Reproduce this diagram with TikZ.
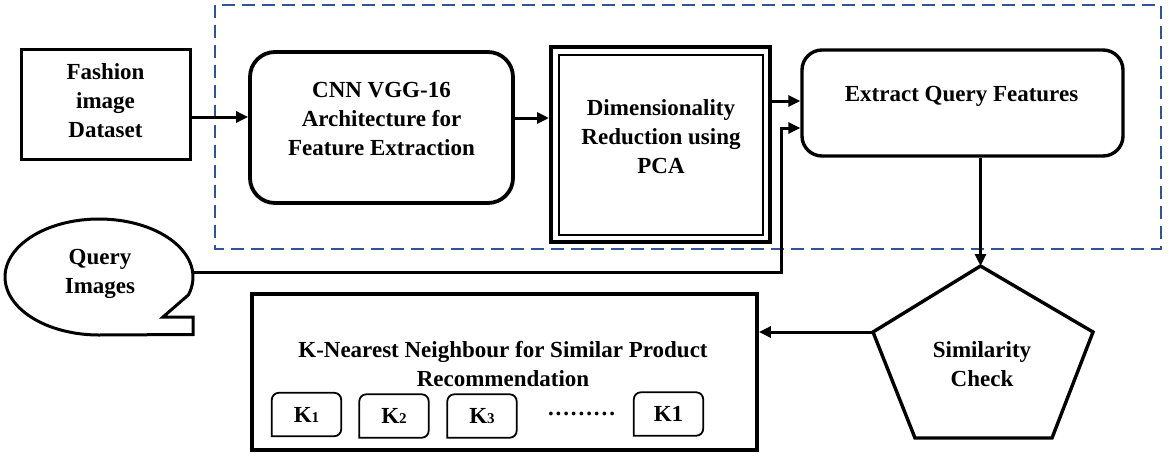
\documentclass[tikz,border=0pt]{standalone}
\usepackage{fontspec}
\setmainfont{Liberation Serif}
\usetikzlibrary{arrows.meta}
\definecolor{dashblue}{HTML}{2F5597}
\begin{document}
\begin{tikzpicture}[x=1pt,y=-1pt,
  font=\bfseries\fontsize{23}{29}\selectfont,
  txt/.style={inner sep=0pt, align=center},
  boxA/.style={draw, line width=3pt, inner sep=0pt},
  arr/.style={line width=3pt, -{Triangle[length=12pt,width=11pt]}},
  kbox/.style={inner sep=0pt, minimum width=69pt, minimum height=43pt},
  kframe/.style={line width=1.8pt, rounded corners=7pt}
]
\useasboundingbox (0,0) rectangle (1170,461);

% dashed frame
\draw[dashblue, line width=2pt, dash pattern=on 13pt off 7pt] (215,5) rectangle (1161,249);

% Fashion image Dataset
\node[boxA, minimum width=169pt, minimum height=110pt] (fash) at (105.5,104) {};
\node[txt] (fashT) at (105.5,101) {Fashion\\image\\Dataset};

% CNN
\node[boxA, line width=3.8pt, rounded corners=25pt, minimum width=263pt, minimum height=151pt] (cnn) at (381.5,127.5) {};
\node[txt] (cnnT) at (381.5,119) {CNN VGG-16\\Architecture for\\Feature Extraction};

% PCA
\node[boxA, line width=4pt, minimum width=219pt, minimum height=195pt] (pca) at (660.5,144.5) {};
\node[draw, line width=2pt, inner sep=0pt, minimum width=204pt, minimum height=180pt] (pcaIn) at (660.5,144.5) {};
\node[txt] (pcaT) at (661,137) {Dimensionality\\Reduction using\\PCA};

% Extract
\node[boxA, line width=3.4pt, rounded corners=20pt, minimum width=321pt, minimum height=106pt] (ext) at (962.5,103) {};
\node[txt] (extT) at (961.5,96) {Extract Query Features};

% KNN
\node[boxA, line width=3.8pt, minimum width=505pt, minimum height=156pt] (knn) at (504.5,372) {};
\node[txt] (knnT) at (503,364.5) {K-Nearest Neighbour for Similar Product\\Recommendation};

% K boxes
\node[kbox] (k1) at (306.5,414.5) {K{\fontsize{15}{15}\selectfont 1}};
\node[kbox] (k2) at (394,416) {K{\fontsize{15}{15}\selectfont 2}};
\node[kbox] (k3) at (482,416) {K{\fontsize{15}{15}\selectfont 3}};
\node[kbox] (kn) at (668.5,414) {K1};
\foreach \k in {k1,k2,k3,kn}{
  \draw[kframe] (\k.south west) -- (\k.north west) -- (\k.north east) -- (\k.south east) [sharp corners] -- cycle;
}
\node[txt] (dots) at (581.5,414) {\makebox[67pt][s]{.\hfill.\hfill.\hfill.\hfill.\hfill.\hfill.\hfill.\hfill.}};

% pentagon
\coordinate (ptop) at (980.5,266);
\coordinate (pl) at (873,332);
\coordinate (pr) at (1093,332);
\coordinate (pbl) at (915,438);
\coordinate (pbr) at (1052,438);
\draw[line width=3.4pt, line join=miter] (ptop) -- (pr) -- (pbr) -- (pbl) -- (pl) -- cycle;
\node[txt] (simT) at (982,364.5) {Similarity\\Check};

% Query images callout
\draw[line width=3pt, line join=miter]
  (193,317) -- (193,334.5) -- (99,335)
  -- plot[domain=90:378, samples=90, smooth] ({99+94*cos(\x)},{277+58*sin(\x)})
  -- (163,317) -- cycle;
\node[txt] (qiT) at (100,274) {Query\\Images};
\coordinate (qiR) at (193,272);

% connectors
\draw[arr] ([yshift=-13pt]fash.east) -- ([yshift=-13pt]fash.east -| cnn.west);
\draw[arr] ([yshift=9.5pt]cnn.east) -- ([yshift=9.5pt]cnn.east -| pca.west);
\draw[arr] ([yshift=43.5pt]pca.east) -- ([yshift=43.5pt]pca.east -| ext.west);
\draw[line width=3pt] (qiR) -| ([xshift=-19pt,yshift=-25pt]ext.west);
\draw[arr] ([xshift=-20.5pt,yshift=-25pt]ext.west) -- ([yshift=-25pt]ext.west);
\draw[arr] (ptop |- ext.south) -- (ptop);
\draw[arr] (pl) -- (pl -| knn.east);
\end{tikzpicture}
\end{document}
